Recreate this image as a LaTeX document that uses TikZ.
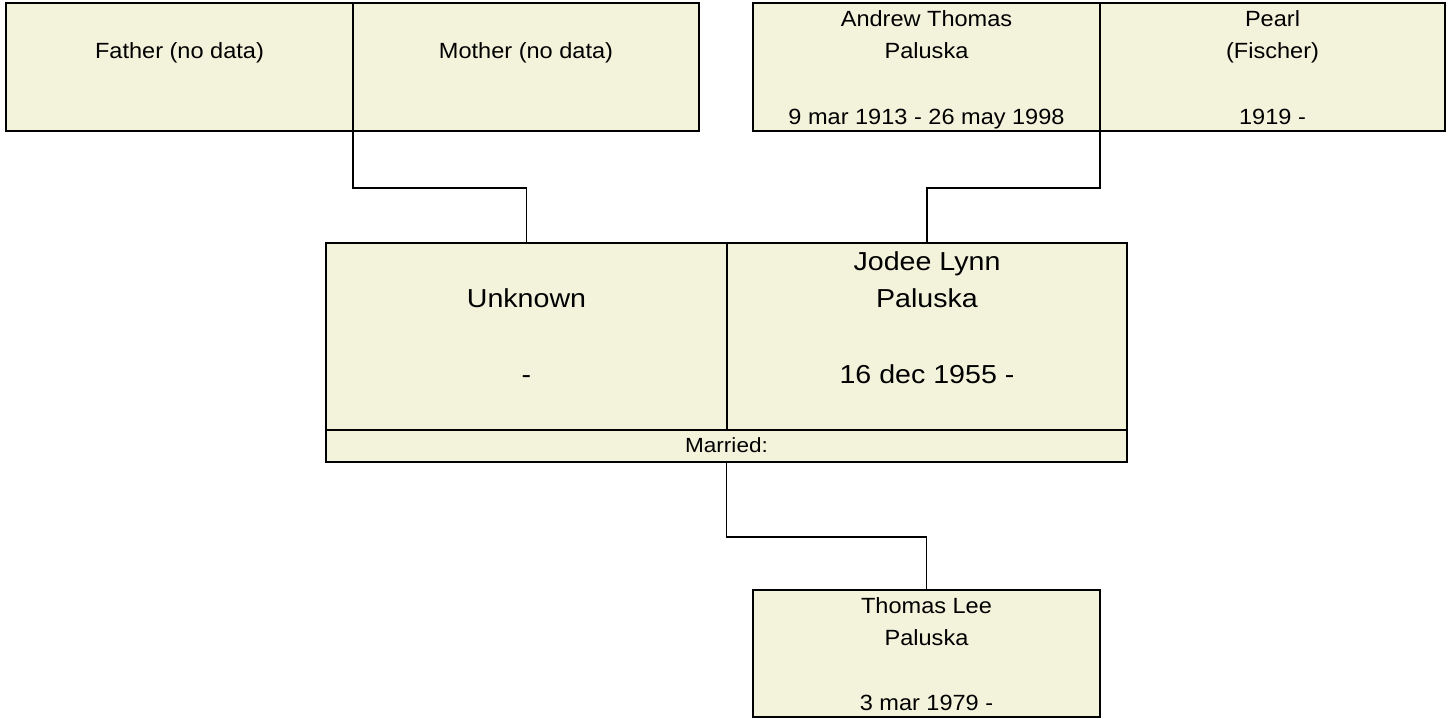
\documentclass[tikz,border=0pt]{standalone}
\usepackage{fontspec}
\setmainfont{Liberation Sans}
\newfontfamily\wfa[FakeStretch=1.07]{Liberation Sans}
\newfontfamily\wfb[FakeStretch=1.1]{Liberation Sans}
\usetikzlibrary{calc}
\definecolor{boxfill}{RGB}{243,243,220}
\tikzset{
  person/.style={draw=black, line width=2pt, fill=boxfill, rectangle, inner sep=0pt, outer sep=0pt, anchor=north west},
  bigperson/.style={person, line width=2.6pt},
  smalltxt/.style={font=\wfa\fontsize{22}{26}\selectfont, anchor=base, inner sep=0pt},
  bigtxt/.style={font=\wfb\fontsize{26}{30}\selectfont, anchor=base, inner sep=0pt},
  marrtxt/.style={font=\wfb\fontsize{20.5}{24}\selectfont, anchor=base, inner sep=0pt},
  wire/.style={draw=black, line width=1.5pt},
}
\begin{document}
\begin{tikzpicture}[x=1pt,y=-1pt]
\useasboundingbox (0,0) rectangle (1450,719);
% top boxes
\node[person, minimum width=347pt, minimum height=128pt] (fa) at (6,3) {};
\node[person, minimum width=346pt, minimum height=128pt] (mo) at (353,3) {};
\node[person, minimum width=347pt, minimum height=128pt] (an) at (753,3) {};
\node[person, minimum width=345pt, minimum height=128pt] (pe) at (1100,3) {};
% middle
\node[bigperson, minimum width=401pt, minimum height=187pt] (un) at (326,243) {};
\node[bigperson, minimum width=400pt, minimum height=187pt] (jo) at (727,243) {};
\node[bigperson, minimum width=801pt, minimum height=32pt] (ma) at (326,430) {};
% child
\node[person, minimum width=347pt, minimum height=127pt] (th) at (753,590) {};

% connectors
\draw[wire] (fa.south east) -- ++(0,57) -| (un.north);
\draw[wire] (an.south east) -- ++(0,57) -| (jo.north);
\draw[wire] (ma.south) -- ++(0,75) -| (th.north);

% texts top
\node[smalltxt] (t1) at ($(fa.north)+(0,55.5)$) {Father (no data)};
\node[smalltxt] (t2) at ($(mo.north)+(0,55.5)$) {Mother (no data)};
\node[smalltxt] (t3) at ($(an.north)+(0,23.5)$) {Andrew Thomas};
\node[smalltxt] (t4) at ($(an.north)+(0,55.5)$) {Paluska};
\node[smalltxt] (t5) at ($(an.north)+(0,121.5)$) {9 mar 1913 - 26 may 1998};
\node[smalltxt] (t6) at ($(pe.north)+(0,23.5)$) {Pearl};
\node[smalltxt] (t7) at ($(pe.north)+(0,55.5)$) {(Fischer)};
\node[smalltxt] (t8) at ($(pe.north)+(0,121.5)$) {1919 -};
% middle texts
\node[bigtxt] (t9) at ($(un.north)+(0,64.5)$) {Unknown};
\node[bigtxt] (t10) at ($(un.north)+(0,140.5)$) {-};
\node[bigtxt] (t11) at ($(jo.north)+(0,27)$) {Jodee Lynn};
\node[bigtxt] (t12) at ($(jo.north)+(0,64.5)$) {Paluska};
\node[bigtxt] (t13) at ($(jo.north)+(0,140.5)$) {16 dec 1955 -};
\node[marrtxt] (t14) at ($(ma.north)+(0,22)$) {Married:};
% child texts
\node[smalltxt] (t15) at ($(th.north)+(0,23.5)$) {Thomas Lee};
\node[smalltxt] (t16) at ($(th.north)+(0,55.5)$) {Paluska};
\node[smalltxt] (t17) at ($(th.north)+(0,120.5)$) {3 mar 1979 -};
\end{tikzpicture}
\end{document}
